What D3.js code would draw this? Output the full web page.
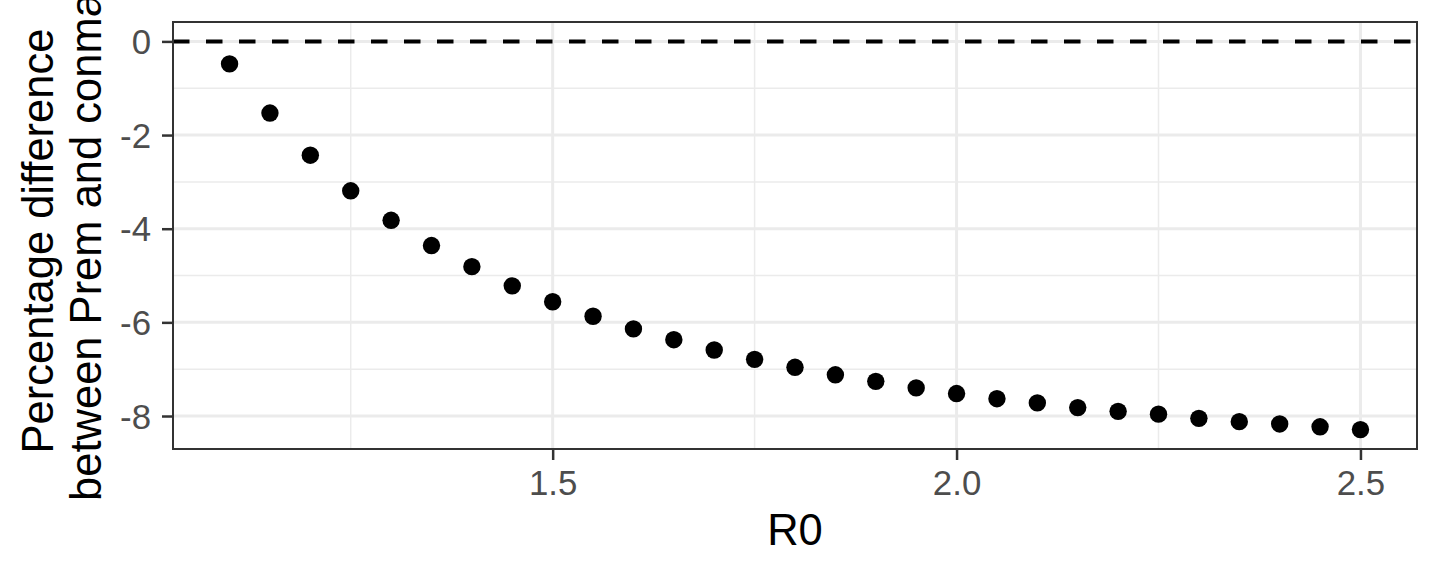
<!DOCTYPE html>
<html>
<head>
<meta charset="utf-8">
<script src="https://cdn.jsdelivr.net/npm/d3@7"></script>
<style>
  html, body { margin: 0; padding: 0; background: #fff; }
  svg { display: block; font-family: "Liberation Sans", Arial, sans-serif; }
</style>
</head>
<body>
<svg id="chart" width="1440" height="576"></svg>
<script>
// R0 values and percentage difference between Prem and conmat
const r0Values = [1.1, 1.15, 1.2, 1.25, 1.3, 1.35, 1.4, 1.45, 1.5, 1.55, 1.6, 1.65, 1.7, 1.75,
  1.8, 1.85, 1.9, 1.95, 2.0, 2.05, 2.1, 2.15, 2.2, 2.25, 2.3, 2.35, 2.4, 2.45, 2.5];
const pctDiff = [-0.48, -1.53, -2.43, -3.19, -3.82, -4.36, -4.81, -5.22, -5.56, -5.87, -6.14,
  -6.37, -6.59, -6.79, -6.96, -7.12, -7.26, -7.40, -7.52, -7.63, -7.72, -7.82, -7.90, -7.96,
  -8.05, -8.12, -8.17, -8.23, -8.29];
const refLine = 0;
const xBreaks = [1.5, 2.0, 2.5];
const xMinor = [1.25, 1.75, 2.25];
const yBreaks = [0, -2, -4, -6, -8];
const yMinor = [-1, -3, -5, -7];

const data = r0Values.map((r, i) => ({ r0: r, diff: pctDiff[i] }));

const panel = { left: 173, right: 1417, top: 22, bottom: 449 };
const svg = d3.select("#chart");

// ggplot-style 5% expansion
const expand = (lo, hi) => { const p = (hi - lo) * 0.05; return [lo - p, hi + p]; };
const xExt = d3.extent(r0Values);
const yExt = d3.extent(pctDiff.concat([refLine]));

const x = d3.scaleLinear().domain(expand(xExt[0], xExt[1])).range([panel.left, panel.right]);
const y = d3.scaleLinear().domain(expand(yExt[0], yExt[1])).range([panel.bottom, panel.top]);

// Grid lines
const grid = svg.append("g");
grid.selectAll(".xminor").data(xMinor).join("line")
  .attr("x1", d => x(d)).attr("x2", d => x(d))
  .attr("y1", panel.top).attr("y2", panel.bottom)
  .attr("stroke", "#EBEBEB").attr("stroke-width", 1.5);
grid.selectAll(".yminor").data(yMinor).join("line")
  .attr("y1", d => y(d)).attr("y2", d => y(d))
  .attr("x1", panel.left).attr("x2", panel.right)
  .attr("stroke", "#EBEBEB").attr("stroke-width", 1.5);
grid.selectAll(".xmajor").data(xBreaks).join("line")
  .attr("x1", d => x(d)).attr("x2", d => x(d))
  .attr("y1", panel.top).attr("y2", panel.bottom)
  .attr("stroke", "#EBEBEB").attr("stroke-width", 3);
grid.selectAll(".ymajor").data(yBreaks).join("line")
  .attr("y1", d => y(d)).attr("y2", d => y(d))
  .attr("x1", panel.left).attr("x2", panel.right)
  .attr("stroke", "#EBEBEB").attr("stroke-width", 3);

// Dashed reference line at 0
svg.append("line")
  .attr("x1", panel.left).attr("x2", panel.right)
  .attr("y1", y(refLine)).attr("y2", y(refLine))
  .attr("stroke", "#000").attr("stroke-width", 4)
  .attr("stroke-dasharray", "16.5,16.5");

// Points
svg.append("g").selectAll("circle").data(data).join("circle")
  .attr("cx", d => x(d.r0))
  .attr("cy", d => y(d.diff))
  .attr("r", 8.7)
  .attr("fill", "#000");

// Panel border
svg.append("rect")
  .attr("x", panel.left).attr("y", panel.top)
  .attr("width", panel.right - panel.left).attr("height", panel.bottom - panel.top)
  .attr("fill", "none").attr("stroke", "#333333").attr("stroke-width", 2);

// Axes
const xAxis = svg.append("g")
  .attr("transform", `translate(0,${panel.bottom})`)
  .call(d3.axisBottom(x).tickValues(xBreaks).tickFormat(d3.format(".1f")).tickSize(11).tickPadding(10));
const yAxis = svg.append("g")
  .attr("transform", `translate(${panel.left},0)`)
  .call(d3.axisLeft(y).tickValues(yBreaks).tickFormat(d => d3.format("d")(d).replace("−", "-")).tickSize(11).tickPadding(11));

[xAxis, yAxis].forEach(ax => {
  ax.select(".domain").remove();
  ax.selectAll(".tick line").attr("stroke", "#333333").attr("stroke-width", 2.5);
  ax.selectAll(".tick text")
    .attr("fill", "#4D4D4D")
    .style("font-size", "34.8px")
    .style("font-family", "'Liberation Sans', Arial, sans-serif");
});
xAxis.selectAll(".tick text").attr("dy", "0.71em");
yAxis.selectAll(".tick text").attr("dy", "0.35em");

// Axis titles
svg.append("text")
  .attr("x", (panel.left + panel.right) / 2)
  .attr("y", 545)
  .attr("text-anchor", "middle")
  .style("font-size", "43.5px")
  .attr("fill", "#000")
  .text("R0");

const yTitleLines = ["Percentage difference", "between Prem and conmat"];
const yTitleCenter = 241;
svg.append("g").selectAll("text").data(yTitleLines).join("text")
  .attr("transform", (d, i) => `translate(${52.5 + i * 48},${yTitleCenter}) rotate(-90)`)
  .attr("text-anchor", "middle")
  .style("font-size", "43.5px")
  .attr("fill", "#000")
  .text(d => d);
</script>
</body>
</html>
